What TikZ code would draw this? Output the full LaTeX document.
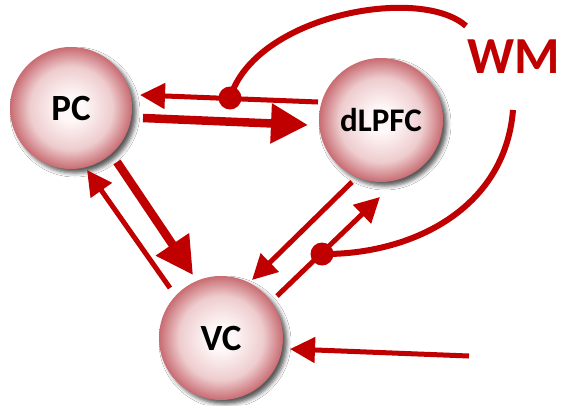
\documentclass[tikz,border=0pt]{standalone}
\usepackage{fontspec}
\setmainfont{Carlito}
\usetikzlibrary{arrows.meta,shadows.blur,calc}
\definecolor{arrred}{RGB}{192,0,0}
\definecolor{ballin}{RGB}{255,248,248}
\definecolor{ballmid}{RGB}{238,204,206}
\definecolor{ballout}{RGB}{200,108,114}
\pgfdeclareradialshading{sphere}{\pgfpoint{0bp}{0bp}}{color(0bp)=(ballin); color(5bp)=(ballin); color(17bp)=(ballmid); color(25bp)=(ballout); color(50bp)=(ballout)}
\begin{document}
\begin{tikzpicture}[x=1pt,y=-1pt,
  ball/.style={circle, minimum size=#1, inner sep=0pt, outer sep=0pt,
    shading=sphere,
    blur shadow={shadow xshift=4pt, shadow yshift=-4pt, shadow blur radius=4pt, shadow opacity=65},
    font=\bfseries\fontsize{37}{37}\selectfont},
  thinarr/.style={draw=arrred, line width=5pt, -{Triangle[length=25pt,width=25pt]}, arrred},
  thickarr/.style={draw=arrred, line width=8.5pt, -{Triangle[length=37pt,width=38pt]}, arrred},
  wmline/.style={draw=arrred, line width=6pt},
  wmdot/.style={circle, fill=arrred, minimum size=23pt, inner sep=0pt}
]
\path[use as bounding box] (0,0) rectangle (562,405);
\fill[white] (0,0) rectangle (562,405);

\node[ball=122pt] (PC) at (71,108) {PC};
\node[ball=124pt, font=\bfseries\fontsize{33}{33}\selectfont] (dLPFC) at (381,120) {dLPFC};
\node[ball=124pt] (VC) at (221,338) {VC};
\node[text=arrred, font=\bfseries\fontsize{52}{52}\selectfont, inner sep=0pt] (WM) at (514,57) {WM};

% connectors
\draw[thinarr] ($(dLPFC)+(-63,-18)$) -- ($(PC)+(69,-13)$);
\draw[thickarr] ($(PC)+(72,10)$) -- ($(dLPFC)+(-73,5)$);
\draw[thickarr] ($(PC)+(46,54)$) -- ($(VC)+(-28,-63)$);
\draw[thinarr] ($(VC)+(-51,-50)$) -- ($(PC)+(16,62)$);
\draw[thinarr] ($(dLPFC)+(-29,62)$) -- ($(VC)+(31,-58)$);
\draw[thinarr] ($(VC)+(56,-42)$) -- ($(dLPFC)+(-1,77)$);
\coordinate (ext) at (469,356);
\draw[thinarr] (ext) -- ($(VC)+(69,11)$);

% WM modulation
\node[wmdot] (d1) at (230,98) {};
\node[wmdot] (d2) at (322,254) {};
\coordinate (wm1) at (466,26);
\coordinate (wm2) at (513,110);
\draw[wmline] (d1.center) .. controls (255,15) and (420,-15) .. (wm1);
\draw[wmline] (wm2) .. controls (505,210) and (410,255) .. (d2.center);
\end{tikzpicture}
\end{document}
